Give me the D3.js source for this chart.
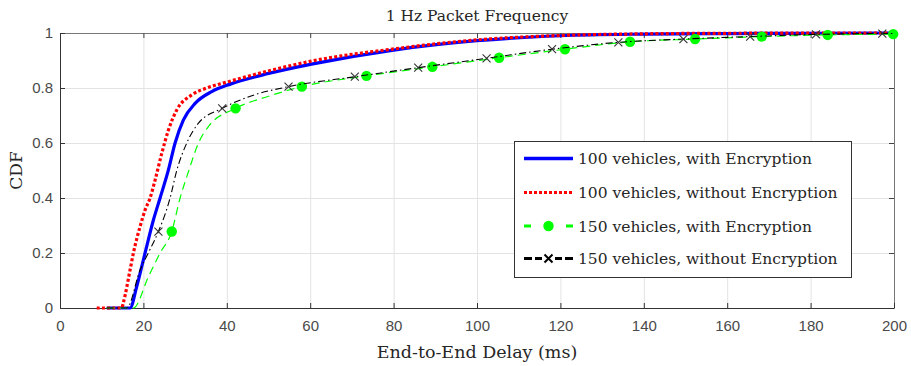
<!DOCTYPE html>
<html>
<head>
<meta charset="utf-8">
<script src="https://cdn.jsdelivr.net/npm/d3@7"></script>
<style>
  body { margin: 0; background: #fff; }
  .tick text { font-family: "Liberation Sans", Arial, sans-serif; font-size: 15px; fill: #4a4a4a; }
  .serif { font-family: "DejaVu Serif", serif; fill: #262626; }
</style>
</head>
<body>
<div id="chart"></div>
<script>
// tick values / labels
const xTickValues = [0, 20, 40, 60, 80, 100, 120, 140, 160, 180, 200];
const yTickValues = [0, 0.2, 0.4, 0.6, 0.8, 1];
const yTickLabels = ["0", "0.2", "0.4", "0.6", "0.8", "1"];

const titleText = "1 Hz Packet Frequency";
const xLabel = "End-to-End Delay (ms)";
const yLabel = "CDF";
const seriesNames = [
  "100 vehicles, with Encryption",
  "100 vehicles, without Encryption",
  "150 vehicles, with Encryption",
  "150 vehicles, without Encryption"
];

// 100 vehicles, with Encryption (blue)
const blueDelay = [11.2, 16.8, 18.4, 20.4, 22.4, 24, 26, 27.6, 29.6, 32.4, 36.4, 41, 50, 60, 80, 100, 120, 140, 160, 180, 200];
const blueCdf   = [0, 0, 0.078, 0.2, 0.32, 0.4, 0.502, 0.6, 0.684, 0.744, 0.787, 0.815, 0.853, 0.886, 0.938, 0.972, 0.99, 0.996, 0.998, 0.999, 1];

// 100 vehicles, without Encryption (red)
const redDelay = [8.8, 14.8, 15.2, 16.8, 17.6, 19.2, 20.4, 21.6, 22.8, 24.4, 26, 28, 31.6, 35.2, 40.4, 50, 60, 80, 100, 120, 140, 160, 200];
const redCdf   = [0, 0, 0.02, 0.138, 0.2, 0.296, 0.356, 0.4, 0.465, 0.562, 0.647, 0.72, 0.775, 0.8, 0.823, 0.862, 0.897, 0.942, 0.975, 0.991, 0.997, 0.999, 1];

// 150 vehicles, with Encryption (green)
const greenDelay = [11.2, 17.6, 21.2, 24, 26.8, 28.8, 30.9, 33.2, 35.6, 42.1, 50, 58, 73.5, 89.3, 105.3, 121.1, 136.7, 152.3, 168.3, 184.1, 199.8];
const greenCdf   = [0, 0, 0.114, 0.2, 0.278, 0.4, 0.5, 0.6, 0.66, 0.726, 0.77, 0.805, 0.844, 0.877, 0.91, 0.941, 0.968, 0.978, 0.987, 0.993, 0.996];
const greenMarkDelay = [26.8, 42.1, 58, 73.5, 89.3, 105.3, 121.1, 136.7, 152.3, 168.3, 184.1, 199.8];
const greenMarkCdf   = [0.278, 0.726, 0.805, 0.844, 0.877, 0.91, 0.941, 0.968, 0.978, 0.987, 0.993, 0.996];

// 150 vehicles, without Encryption (black)
const blackDelay = [11.2, 16, 19.2, 21.5, 23.6, 26.4, 28, 30.4, 33.2, 38.9, 46, 54.8, 70.7, 85.9, 102.3, 118, 133.9, 149.5, 165.5, 181.3, 197.2, 200];
const blackCdf   = [0, 0, 0.138, 0.21, 0.278, 0.4, 0.5, 0.6, 0.672, 0.726, 0.772, 0.805, 0.841, 0.874, 0.908, 0.941, 0.966, 0.978, 0.987, 0.995, 0.998, 0.998];
const blackMarkDelay = [23.6, 38.9, 54.8, 70.7, 85.9, 102.3, 118, 133.9, 149.5, 165.5, 181.3, 197.2];
const blackMarkCdf   = [0.278, 0.726, 0.805, 0.841, 0.874, 0.908, 0.941, 0.966, 0.978, 0.987, 0.995, 0.998];

const width = 911, height = 366;
const mLeft = 60, mRight = 894, mTop = 33, mBottom = 308;

const x = d3.scaleLinear().domain([0, 200]).range([mLeft, mRight]);
const y = d3.scaleLinear().domain([0, 1]).range([mBottom, mTop]);

const svg = d3.select('#chart').append('svg')
  .attr('width', width)
  .attr('height', height);

// grid
svg.append('g')
  .attr('transform', `translate(0,${mBottom})`)
  .call(d3.axisBottom(x).tickValues(xTickValues).tickSize(-(mBottom - mTop)).tickFormat(''))
  .call(g => g.select('.domain').remove())
  .selectAll('line').attr('stroke', '#e3e3e3');
svg.append('g')
  .attr('transform', `translate(${mLeft},0)`)
  .call(d3.axisLeft(y).tickValues(yTickValues).tickSize(-(mRight - mLeft)).tickFormat(''))
  .call(g => g.select('.domain').remove())
  .selectAll('line').attr('stroke', '#e3e3e3');

// box: top + right (ticks only)
svg.append('g')
  .attr('transform', `translate(0,${mTop})`)
  .call(d3.axisTop(x).tickValues(xTickValues).tickSizeInner(-5).tickSizeOuter(0).tickFormat(''))
  .call(g => g.select('.domain').attr('stroke', '#777'))
  .selectAll('line').attr('stroke', '#444');
svg.append('g')
  .attr('transform', `translate(${mRight},0)`)
  .call(d3.axisRight(y).tickValues(yTickValues).tickSizeInner(-5).tickSizeOuter(0).tickFormat(''))
  .call(g => g.select('.domain').attr('stroke', '#777'))
  .selectAll('line').attr('stroke', '#444');

// bottom + left axes
svg.append('g')
  .attr('transform', `translate(0,${mBottom})`)
  .call(d3.axisBottom(x).tickValues(xTickValues).tickSizeInner(-5).tickSizeOuter(0).tickPadding(12))
  .call(g => g.select('.domain').attr('stroke', '#333'))
  .call(g => g.selectAll('line').attr('stroke', '#333'));
svg.append('g')
  .attr('transform', `translate(${mLeft},0)`)
  .call(d3.axisLeft(y).tickValues(yTickValues).tickSizeInner(-5).tickSizeOuter(0).tickPadding(7)
    .tickFormat((d, i) => yTickLabels[i]))
  .call(g => g.select('.domain').attr('stroke', '#333'))
  .call(g => g.selectAll('line').attr('stroke', '#333'));

svg.selectAll('.domain').attr('fill', 'none');

// lines
const line = d3.line()
  .x(d => x(d[0]))
  .y(d => y(d[1]))
  .curve(d3.curveMonotoneX);

const zip = (a, b) => a.map((v, i) => [v, b[i]]);

svg.append('path')
  .datum(zip(blueDelay, blueCdf))
  .attr('fill', 'none').attr('stroke', '#0000ff').attr('stroke-width', 3.2)
  .attr('d', line);

svg.append('path')
  .datum(zip(redDelay, redCdf))
  .attr('fill', 'none').attr('stroke', '#ff0000').attr('stroke-width', 3.2)
  .attr('stroke-dasharray', '3,2.2')
  .attr('d', line);

svg.append('path')
  .datum(zip(greenDelay, greenCdf))
  .attr('fill', 'none').attr('stroke', '#00ff00').attr('stroke-width', 1.2)
  .attr('stroke-dasharray', '8,5')
  .attr('d', line);

svg.selectAll('circle.gm')
  .data(zip(greenMarkDelay, greenMarkCdf))
  .enter().append('circle')
    .attr('class', 'gm')
    .attr('cx', d => x(d[0]))
    .attr('cy', d => y(d[1]))
    .attr('r', 5.2)
    .attr('fill', '#00ff00');

svg.append('path')
  .datum(zip(blackDelay, blackCdf))
  .attr('fill', 'none').attr('stroke', '#000').attr('stroke-width', 1.1)
  .attr('stroke-dasharray', '7,3,1.5,3')
  .attr('d', line);

const cross = (sel, s) => sel.append('path')
  .attr('d', `M${-s},${-s}L${s},${s}M${-s},${s}L${s},${-s}`)
  .attr('stroke', '#333').attr('stroke-width', 1.1).attr('fill', 'none');

svg.selectAll('g.bm')
  .data(zip(blackMarkDelay, blackMarkCdf))
  .enter().append('g')
    .attr('class', 'bm')
    .attr('transform', d => `translate(${x(d[0])},${y(d[1])})`)
    .each(function () { cross(d3.select(this), 4); });

// title + labels
svg.append('text').attr('class', 'serif')
  .attr('x', (mLeft + mRight) / 2).attr('y', 21)
  .attr('text-anchor', 'middle').style('font-size', '15.5px')
  .text(titleText);

svg.append('text').attr('class', 'serif')
  .attr('x', (mLeft + mRight) / 2).attr('y', 358)
  .attr('text-anchor', 'middle').style('font-size', '17.5px')
  .text(xLabel);

svg.append('text').attr('class', 'serif')
  .attr('transform', `translate(22,${(mTop + mBottom) / 2}) rotate(-90)`)
  .attr('text-anchor', 'middle').style('font-size', '17px')
  .text(yLabel);

// legend
const lg = svg.append('g');
lg.append('rect')
  .attr('x', 514.5).attr('y', 141.5).attr('width', 337).attr('height', 136)
  .attr('fill', '#fff').attr('stroke', '#333').attr('stroke-width', 1);

const rowY = [158.5, 192.5, 226, 258.5];
const lx0 = 524, lx1 = 573, ltx = 578;
const legendStyles = [
  {color: '#0000ff', dash: null, w: 3.5},
  {color: '#ff0000', dash: '3,2', w: 3.2},
  {color: '#00ff00', dash: '7,35,7', w: 3.2},
  {color: '#000', dash: '8,3,7,13,7,3,8', w: 3.2}
];

seriesNames.forEach((name, i) => {
  const st = legendStyles[i];
  const ln = lg.append('line')
    .attr('x1', lx0).attr('x2', lx1).attr('y1', rowY[i]).attr('y2', rowY[i])
    .attr('stroke', st.color).attr('stroke-width', st.w);
  if (st.dash) ln.attr('stroke-dasharray', st.dash);
  lg.append('text').attr('class', 'serif')
    .attr('x', ltx).attr('y', rowY[i] + 5.5)
    .style('font-size', '15.5px')
    .text(name);
});
lg.append('circle')
  .attr('cx', (lx0 + lx1) / 2).attr('cy', rowY[2]).attr('r', 5.2).attr('fill', '#00ff00');
cross(lg.append('g').attr('transform', `translate(${(lx0 + lx1) / 2},${rowY[3]})`), 4)
  .attr('stroke', '#000').attr('stroke-width', 2);
</script>
</body>
</html>
